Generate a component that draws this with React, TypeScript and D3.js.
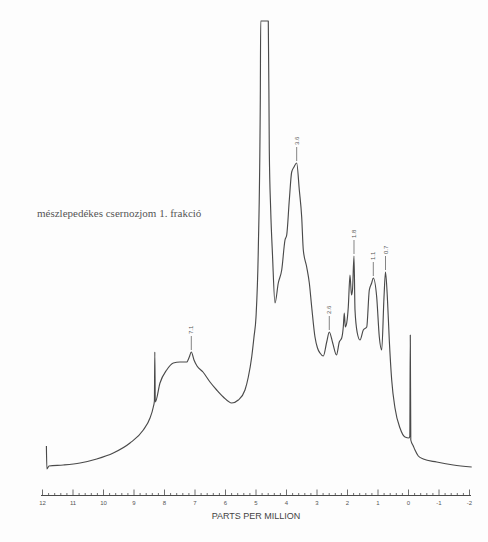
import React from 'react';
import * as d3 from 'd3';

// chemical shift (ppm) and relative signal height
const spectrumPpm = [
  11.872, 11.856, 11.787, 11.318, 10.77, 10.223, 9.679, 9.131, 8.695, 8.475,
  8.367, 8.331, 8.318, 8.302, 8.148, 7.928, 7.711, 7.492, 7.272, 7.187,
  7.121, 7.033, 6.934, 6.738, 6.508, 6.289, 6.072, 5.797, 5.58, 5.361,
  5.252, 5.141, 5.066, 5.0, 4.925, 4.859, 4.846, 4.597, 4.564, 4.518,
  4.459, 4.377, 4.269, 4.157, 4.049, 3.993, 3.908, 3.83, 3.754, 3.666,
  3.58, 3.502, 3.449, 3.338, 3.252, 3.174, 3.066, 2.984, 2.902, 2.793,
  2.682, 2.597, 2.485, 2.361, 2.269, 2.19, 2.138, 2.105, 2.072, 2.026,
  1.974, 1.918, 1.869, 1.836, 1.787, 1.754, 1.679, 1.59, 1.482, 1.37,
  1.285, 1.207, 1.154, 1.043, 0.957, 0.879, 0.803, 0.754, 0.689, 0.63,
  0.551, 0.443, 0.279, 0.115, -0.023, -0.043, -0.059, -0.075, -0.157, -0.213,
  -0.321, -0.485, -0.925, -1.469, -2.072,
];
const spectrumIntensity = [
  24, 1, 4, 5, 7, 11, 17, 27, 40, 52,
  63, 69, 118, 68, 87, 100, 107, 108, 108, 113,
  118, 110, 104, 98, 88, 80, 73, 67, 70, 80,
  93, 113, 133, 153, 220, 370, 449, 449, 320, 260,
  215, 167, 187, 200, 230, 235, 270, 298, 303, 307,
  280, 253, 220, 203, 187, 163, 133, 122, 117, 114,
  128, 138, 127, 115, 128, 132, 143, 157, 143, 147,
  163, 195, 175, 180, 214, 160, 137, 130, 140, 143,
  180, 187, 192, 173, 133, 120, 173, 198, 170, 130,
  90, 62, 42, 33, 32, 34, 135, 30, 24, 20,
  14, 11, 8, 5, 3,
];

const peakLabels = ['7.1', '3.6', '2.6', '1.8', '1.1', '0.7'];
const tickLabels = ['12', '11', '10', '9', '8', '7', '6', '5', '4', '3', '2', '1', '0', '-1', '-2'];
const sampleTitle = 'mészlepedékes csernozjom 1. frakció';
const axisTitle = 'PARTS PER MILLION';

const W = 488;
const H = 542;
const ink = '#4a4a4a';

export default function App() {
  const x = d3.scaleLinear().domain([12, -2]).range([42.5, 469.5]);
  const y = d3.scaleLinear().domain([0, 449]).range([470, 21]);
  const axisY = 495.5;

  const points: [number, number][] = spectrumPpm.map((p, i) => [p, spectrumIntensity[i]]);
  const line = d3
    .line<[number, number]>()
    .x((d) => x(d[0]))
    .y((d) => y(d[1]))
    .curve(d3.curveMonotoneX);

  const minorTicks = d3.range(0, 71).map((i) => 12 - i * 0.2);

  // put each label on the highest point near its value
  const labels = peakLabels.map((t) => {
    const v = +t;
    const near = points.filter((d) => Math.abs(d[0] - v) < 0.15);
    const top = near.reduce((a, b) => (b[1] > a[1] ? b : a), near[0]);
    return { text: t, px: x(top[0]), py: y(top[1]) };
  });

  return (
    <svg
      width={W}
      height={H}
      style={{ position: 'absolute', left: 0, top: 0, background: '#fdfdfd' }}
    >
      <path d={line(points) || ''} fill="none" stroke={ink} strokeWidth={1.15} strokeLinejoin="round" />

      {labels.map((l) => (
        <g key={l.text}>
          <line x1={l.px} x2={l.px} y1={l.py - 2} y2={l.py - 16} stroke="#666" strokeWidth={0.8} />
          <text
            transform={`translate(${l.px + 2},${l.py - 18}) rotate(-90)`}
            fontFamily="Liberation Sans, Arial, sans-serif"
            fontSize={6}
            fill="#555"
          >
            {l.text}
          </text>
        </g>
      ))}

      <text x={37} y={217} fontFamily="Liberation Serif, Times New Roman, serif" fontSize={11} fill="#555">
        {sampleTitle}
      </text>

      {/* ppm axis */}
      <line x1={x(12) - 1.5} x2={x(-2) + 1.5} y1={axisY} y2={axisY} stroke={ink} strokeWidth={1} />
      {minorTicks.map((t, i) => (
        <line
          key={i}
          x1={x(t)}
          x2={x(t)}
          y1={axisY}
          y2={axisY - (i % 5 === 0 ? 6 : 2.5)}
          stroke={ink}
          strokeWidth={0.8}
        />
      ))}
      {tickLabels.map((t) => (
        <text
          key={t}
          x={x(+t)}
          y={505}
          textAnchor="middle"
          fontFamily="Liberation Sans, Arial, sans-serif"
          fontSize={6}
          fill="#555"
        >
          {t}
        </text>
      ))}
      <text
        x={x(5)}
        y={519}
        textAnchor="middle"
        fontFamily="Liberation Sans, Arial, sans-serif"
        fontSize={9}
        fill="#444"
      >
        {axisTitle}
      </text>
    </svg>
  );
}
